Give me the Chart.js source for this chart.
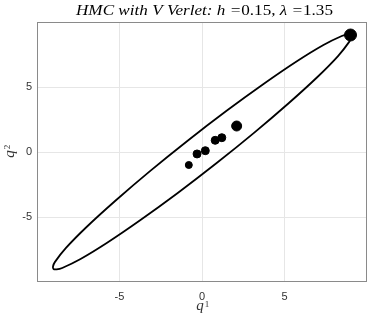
<!DOCTYPE html>
<html>
<head>
<meta charset="utf-8">
<script src="https://cdn.jsdelivr.net/npm/chart.js@4"></script>
<style>
  html, body { margin: 0; padding: 0; background: #fff; }
  #wrap { width: 374px; height: 320px; }
</style>
</head>
<body>
<div id="wrap"><canvas id="hmcChart" width="374" height="320"></canvas></div>
<script>
const sampleQ1 = [-0.8, -0.3, 0.2, 0.8, 1.2, 2.1, 9.0];
const sampleQ2 = [-1.0, -0.15, 0.1, 0.9, 1.1, 2.0, 9.0];

// energy level curve (points read along the ellipse)
const curveQ1 = [9.0, 8.81, 8.47, 7.36, 5.75, 3.75, 1.49, -0.87, -3.17, -5.25, -6.98, -8.23, -8.92, -9.03,
  -9.0, -8.81, -8.47, -7.36, -5.75, -3.75, -1.49, 0.87, 3.17, 5.25, 6.98, 8.23, 8.92, 9.03, 9.0];
const curveQ2 = [9.0, 9.03, 8.92, 8.23, 6.98, 5.25, 3.17, 0.87, -1.49, -3.75, -5.75, -7.36, -8.47, -8.81,
  -9.0, -9.03, -8.92, -8.23, -6.98, -5.25, -3.17, -0.87, 1.49, 3.75, 5.75, 7.36, 8.47, 8.81, 9.0];

const tickVals = [-5, 0, 5];
const axisMin = -10, axisMax = 10;

const dotSizes = [3.5, 4, 4, 4, 4, 5, 6];

const curvePts = curveQ1.map((x, i) => ({ x: x, y: curveQ2[i] }));
const samplePts = sampleQ1.map((x, i) => ({ x: x, y: sampleQ2[i] }));

const tickFont = { family: 'Liberation Sans, Arial, sans-serif', size: 11 };

// title, axis labels and box drawn by hand (mixed italic / upright like LaTeX)
const decor = {
  id: 'decor',
  afterDraw(chart) {
    const c = chart.ctx, a = chart.chartArea;
    c.save();
    c.strokeStyle = '#8a8a8a';
    c.lineWidth = 1;
    c.strokeRect(a.left + 0.5, a.top + 0.5, a.right - a.left - 1, a.bottom - a.top - 1);

    const it = '15px "Liberation Serif", serif';
    const segs = [
      ['italic ' + it, 'HMC with V Verlet: h ='],
      [it, '0.15, '],
      ['italic ' + it, 'λ ='],
      [it, '1.35']
    ];
    let w = 0;
    segs.forEach(s => { c.font = s[0]; w += c.measureText(s[1]).width; });
    const targetW = 257;
    const sx = targetW / w;
    c.save();
    c.translate(76, 15);
    c.scale(sx, 1);
    let x = 0;
    c.fillStyle = '#000';
    c.textBaseline = 'alphabetic';
    c.textAlign = 'left';
    segs.forEach(s => { c.font = s[0]; c.fillText(s[1], x, 0); x += c.measureText(s[1]).width; });
    c.restore();

    // x label
    c.fillStyle = '#333';
    c.textAlign = 'left';
    const cx = (a.left + a.right) / 2;
    c.font = 'italic 15px "Liberation Serif", serif';
    const qw = c.measureText('q').width;
    c.fillText('q', cx - qw / 2 - 2, 310);
    c.font = '9px "Liberation Serif", serif';
    c.fillText('1', cx + qw / 2 - 1, 307);

    // y label
    c.translate(14, (a.top + a.bottom) / 2);
    c.rotate(-Math.PI / 2);
    c.font = 'italic 15px "Liberation Serif", serif';
    c.fillText('q', -qw / 2 - 2, 0);
    c.font = '9px "Liberation Serif", serif';
    c.fillText('2', qw / 2 - 1, -4);
    c.restore();
  }
};

new Chart(document.getElementById('hmcChart').getContext('2d'), {
  type: 'scatter',
  data: {
    datasets: [
      {
        data: curvePts,
        showLine: true,
        borderColor: '#000',
        borderWidth: 1.8,
        pointRadius: 0,
        tension: 0.35,
        fill: false
      },
      {
        data: samplePts,
        backgroundColor: '#000',
        borderColor: '#000',
        pointRadius: dotSizes,
        pointHoverRadius: dotSizes
      }
    ]
  },
  options: {
    responsive: false,
    animation: false,
    layout: { padding: { top: 22, right: 2, left: 0, bottom: 0 } },
    plugins: {
      legend: { display: false },
      tooltip: { enabled: false }
    },
    scales: {
      x: {
        min: axisMin, max: axisMax,
        afterBuildTicks: ax => { ax.ticks = tickVals.map(v => ({ value: v })); },
        afterFit: ax => { ax.height = 38; },
        grid: { color: '#e6e6e6', drawTicks: false },
        border: { display: false },
        ticks: { font: tickFont, color: '#333', padding: 8, maxRotation: 0 }
      },
      y: {
        min: axisMin, max: axisMax,
        afterBuildTicks: ax => { ax.ticks = tickVals.map(v => ({ value: v })); },
        afterFit: ax => { ax.width = 37; },
        grid: { color: '#e6e6e6', drawTicks: false },
        border: { display: false },
        ticks: { font: tickFont, color: '#333', padding: 5 }
      }
    }
  },
  plugins: [decor]
});
</script>
</body>
</html>
